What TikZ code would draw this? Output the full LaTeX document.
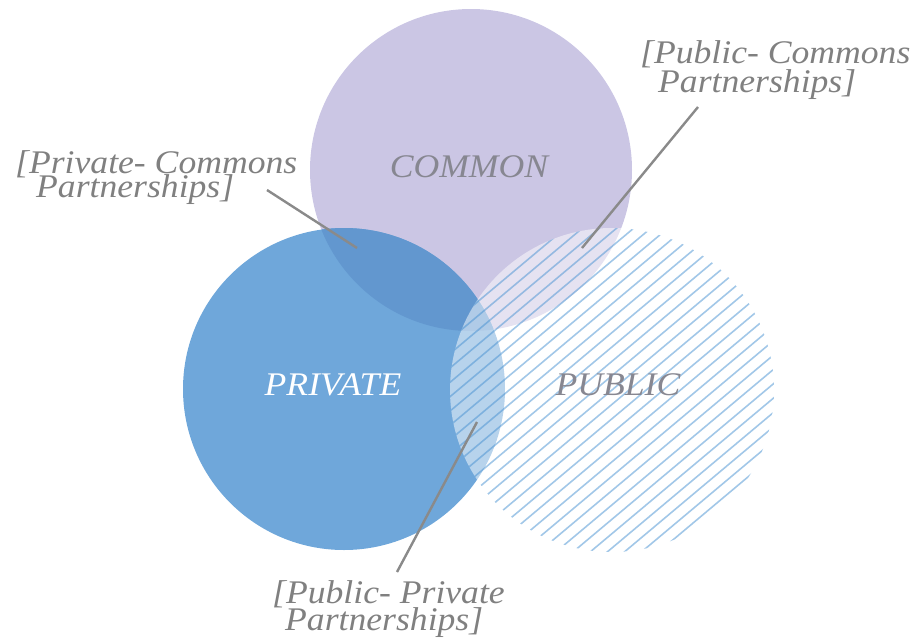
\documentclass[tikz,border=0pt]{standalone}
\usepackage{fontspec}
\setmainfont{Liberation Serif}[FakeStretch=1.08]
\definecolor{commonfill}{RGB}{203,198,228}
\definecolor{privatefill}{RGB}{111,167,218}
\definecolor{pcoverlap}{RGB}{98,151,207}
\definecolor{hatchblue}{RGB}{70,145,210}
\definecolor{labelgray}{RGB}{128,128,128}
\definecolor{titlegray}{RGB}{135,135,145}
\definecolor{leadergray}{RGB}{138,138,138}
\begin{document}
\begin{tikzpicture}[x=1pt,y=-1pt,
  txt/.style={font=\fontsize{33}{33}\selectfont\itshape, inner sep=0pt},
  title/.style={txt, anchor=base, text=titlegray},
  lbl/.style={txt, anchor=base west, text=labelgray},
  leader/.style={draw=leadergray, line width=2.4pt},
  hatchline/.style={draw=hatchblue, opacity=0.5, line width=1.6pt}]
\useasboundingbox (0,0) rectangle (919,638);

% circle centres
\coordinate (cc) at (471,170);
\coordinate (pv) at (344,389);
\coordinate (pb) at (612,390);

% COMMON and PRIVATE discs with their overlap
\fill[commonfill] (cc) circle[radius=161pt];
\fill[privatefill] (pv) circle[radius=161pt];
\begin{scope}
  \clip (cc) circle[radius=161pt];
  \fill[pcoverlap] (pv) circle[radius=161pt];
\end{scope}

% PUBLIC disc: translucent white wash plus diagonal hatching
\begin{scope}
  \clip (pb) circle[radius=162pt];
  \fill[white, opacity=0.5] (pb) circle[radius=162pt];
  \begin{scope}[shift={(pb)}, rotate=40]
    \foreach \k in {-15,...,15}
      \draw[hatchline] (-175,\k*11) -- (175,\k*11);
  \end{scope}
\end{scope}

% circle titles
\node[title] (tcommon) at (469,177) {COMMON};
\node[title, text=white] (tprivate) at (333,395) {PRIVATE};
\node[title] (tpublic) at (618,395) {PUBLIC};

% partnership labels
\node[lbl] (prc1) at (15,173) {[Private- Commons};
\node[lbl] (prc2) at (36,197) {Partnerships]};
\node[lbl] (puc1) at (640,63) {[Public- Commons};
\node[lbl] (puc2) at (658,92) {Partnerships]};
\node[lbl] (pup1) at (272,603) {[Public- Private};
\node[lbl] (pup2) at (285,630) {Partnerships]};

% leader lines
\coordinate (prcA) at (267,190);
\coordinate (prcB) at (357,248);
\coordinate (pucA) at (698,107);
\coordinate (pucB) at (582,248);
\coordinate (pupA) at (397,572);
\coordinate (pupB) at (477,422);
\draw[leader] (prcA) -- (prcB);
\draw[leader] (pucA) -- (pucB);
\draw[leader] (pupA) -- (pupB);
\end{tikzpicture}
\end{document}
